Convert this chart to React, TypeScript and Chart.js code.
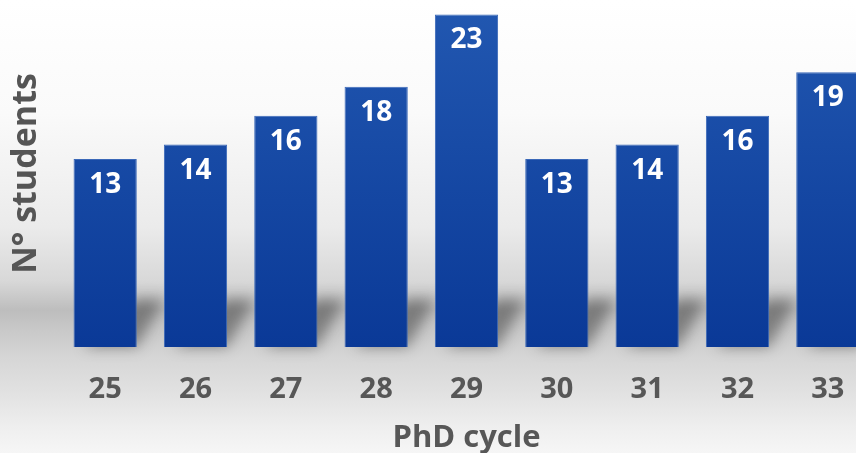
import React, { useEffect, useRef } from "react";
import { Chart, registerables } from "chart.js";

Chart.register(...registerables);

const categories = ["25", "26", "27", "28", "29", "30", "31", "32", "33"];
const students = [13, 14, 16, 18, 23, 13, 14, 16, 19];
const yTitle = "N° students";
const xTitle = "PhD cycle";

const FONT = "'Open Sans', 'DejaVu Sans', sans-serif";

const bgPlugin = {
  id: "bg",
  beforeDraw(chart: any) {
    const { ctx, width, height } = chart;
    const g = ctx.createLinearGradient(0, 0, 0, height);
    g.addColorStop(0, "#ffffff");
    g.addColorStop(0.25, "#fafafa");
    g.addColorStop(0.5, "#ebebeb");
    g.addColorStop(0.62, "#d8d8d8");
    g.addColorStop(0.685, "#bdbdbd");
    g.addColorStop(0.73, "#c9c9c9");
    g.addColorStop(0.79, "#d6d6d6");
    g.addColorStop(0.87, "#e2e2e2");
    g.addColorStop(0.94, "#eeeeee");
    g.addColorStop(1, "#f6f6f6");
    ctx.save();
    ctx.fillStyle = g;
    ctx.fillRect(0, 0, width, height);
    ctx.restore();
  },
  beforeDatasetsDraw(chart: any) {
    const { ctx } = chart;
    const meta = chart.getDatasetMeta(0);
    ctx.save();
    ctx.filter = "blur(7px)";
    ctx.fillStyle = "rgba(40,40,40,0.45)";
    meta.data.forEach((bar: any) => {
      const right = bar.x + bar.width / 2;
      const left = bar.x - bar.width / 2;
      const b = bar.base;
      ctx.beginPath();
      ctx.moveTo(left + 10, b);
      ctx.lineTo(right, b);
      ctx.lineTo(right + 28, b - 48);
      ctx.lineTo(right - 2, b - 48);
      ctx.closePath();
      ctx.fill();
    });
    ctx.restore();
  },
};

const labelPlugin = {
  id: "valueLabels",
  afterDatasetsDraw(chart: any) {
    const { ctx } = chart;
    const meta = chart.getDatasetMeta(0);
    const values = chart.data.datasets[0].data;
    ctx.save();
    ctx.fillStyle = "#ffffff";
    ctx.font = `bold 28px ${FONT}`;
    ctx.textAlign = "center";
    ctx.textBaseline = "middle";
    meta.data.forEach((bar: any, i: number) => {
      ctx.fillText(String(values[i]), bar.x, bar.y + 26);
    });
    ctx.restore();
  },
};

export default function App() {
  const ref = useRef<HTMLCanvasElement | null>(null);
  useEffect(() => {
    if (!ref.current) return;
    const chart = new Chart(ref.current, {
      type: "bar",
      data: {
        labels: categories,
        datasets: [
          {
            data: students,
            backgroundColor: (c: any) => {
              const area = c.chart.chartArea;
              if (!area) return "#1a4fa8";
              const g = c.chart.ctx.createLinearGradient(0, area.top, 0, area.bottom);
              g.addColorStop(0, "#2258b1");
              g.addColorStop(1, "#0a3997");
              return g;
            },
            borderColor: "#3a68b8",
            borderWidth: 1,
            categoryPercentage: 1,
            barPercentage: 0.7,
          },
        ],
      },
      options: {
        animation: false,
        responsive: false,
        maintainAspectRatio: false,
        layout: { padding: { top: 0, right: 7, bottom: -4, left: 0 } },
        plugins: {
          legend: { display: false },
          tooltip: { enabled: false },
        },
        scales: {
          x: {
            grid: { display: false, drawTicks: false },
            border: { display: false },
            ticks: {
              color: "#575757",
              font: { family: FONT, size: 29, weight: "bold" },
              padding: 25,
            },
            title: {
              display: true,
              text: xTitle,
              color: "#575757",
              font: { family: FONT, size: 31, weight: "bold" },
              padding: { top: 4, bottom: 0 },
            },
            afterFit: (s: any) => {
              s.height = 110;
            },
          },
          y: {
            min: 0,
            max: 24,
            grid: { display: false, drawTicks: false },
            border: { display: false },
            ticks: { display: false },
            title: {
              display: true,
              text: yTitle,
              color: "#555555",
              font: { family: FONT, size: 34, weight: "bold" },
              padding: { top: 6, bottom: 0 },
            },
            afterFit: (s: any) => {
              s.width = 60;
            },
          },
        },
      },
      plugins: [bgPlugin, labelPlugin],
    } as any);
    return () => chart.destroy();
  }, []);
  return (
    <div
      style={{
        position: "fixed",
        left: 0,
        top: 0,
        width: 856,
        height: 453,
        overflow: "hidden",
      }}
    >
      <canvas ref={ref} width={880} height={453} style={{ width: 880, height: 453, display: "block" }} />
    </div>
  );
}
